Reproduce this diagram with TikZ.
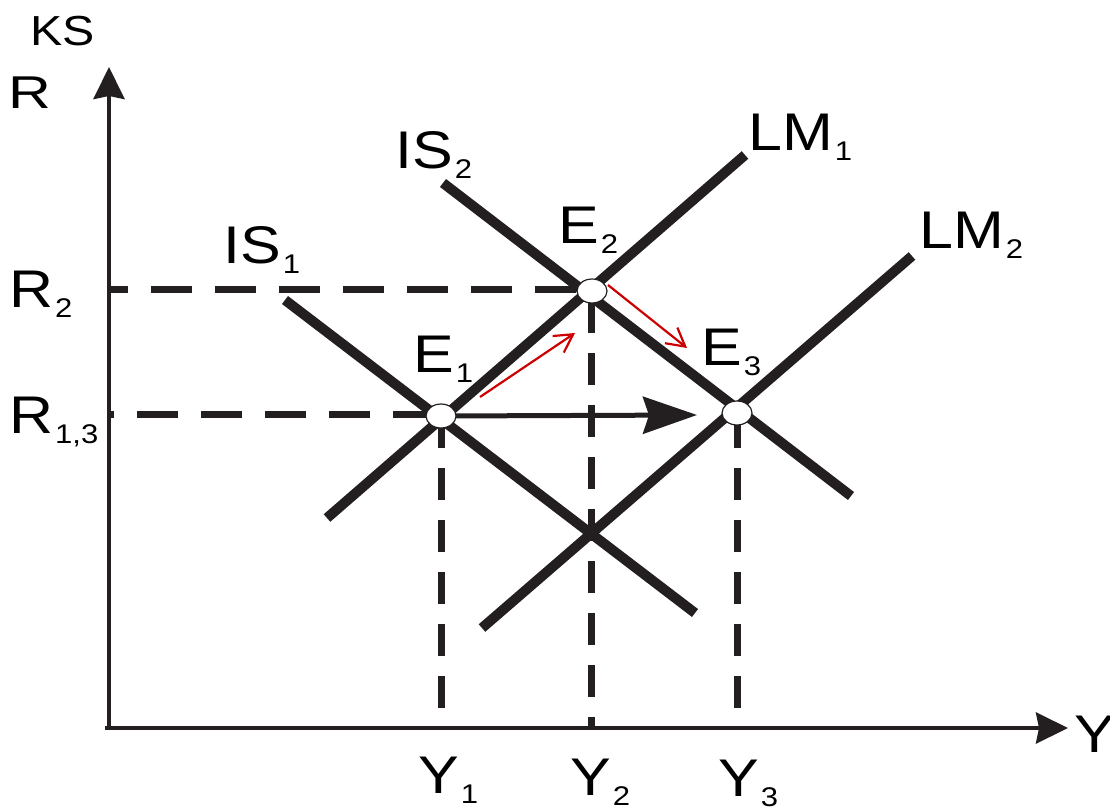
\documentclass[tikz,border=0pt]{standalone}
\usepackage{fontspec}
\setmainfont{Liberation Sans}[FakeStretch=1.15]
\usetikzlibrary{arrows.meta,shapes.geometric}
\definecolor{ink}{RGB}{35,31,32}
\definecolor{redink}{RGB}{204,0,0}
\newcommand{\mainfs}{\fontsize{53}{60}\selectfont}
\newcommand{\sublab}[2]{#1\kern2pt\raisebox{-10pt}{\fontsize{27}{27}\selectfont #2}}
\begin{document}
\begin{tikzpicture}[x=1pt,y=-1pt,
  curve/.style={line width=10pt,color=ink},
  hdash/.style={line width=7pt,color=ink,dash pattern=on 41pt off 23pt},
  vdash/.style={line width=7pt,color=ink,dash pattern=on 32pt off 20pt},
  axisline/.style={line width=4pt,color=ink,-{Stealth[length=32pt,width=31pt,inset=3pt]}},
  eqpt/.style={ellipse,draw=ink,fill=white,line width=1.2pt,minimum width=30pt,minimum height=24pt,inner sep=0pt},
  redarrow/.style={line width=2.2pt,color=redink,-{Straight Barb[length=18pt,width=20pt,line width=2.2pt]}},
  bigarrow/.style={line width=5pt,color=ink,-{Stealth[length=54pt,width=37pt,inset=6pt]}},
  lab/.style={anchor=base west,inner sep=0pt,text=black,font=\mainfs},
]
\useasboundingbox (0,0) rectangle (1110,809);
% coordinates
\coordinate (O) at (109,728);
\coordinate (ytip) at (109,67);
\coordinate (xO) at (105,728);
\coordinate (xtip) at (1068,728);
\coordinate (E1c) at (441,416);
\coordinate (E2c) at (592,291);
\coordinate (E3c) at (737,413);
\coordinate (R2a) at (109,289);
\coordinate (R2b) at (592,289);
\coordinate (R13a) at (109,414);
\coordinate (R13b) at (441,414);
\coordinate (Y1b) at (441,728);
\coordinate (Y2b) at (591,728);
\coordinate (Y3b) at (737,728);
\coordinate (Y2a) at (591,291);
\coordinate (IS1a) at (285,300);
\coordinate (IS1b) at (695,613);
\coordinate (IS2a) at (443,183);
\coordinate (IS2b) at (851,496);
\coordinate (LM1a) at (327,518);
\coordinate (LM1b) at (745,155);
\coordinate (LM2a) at (482,628);
\coordinate (LM2b) at (912,256);
\coordinate (bigtip) at (697,415);
\coordinate (ra1) at (480,397);
\coordinate (rb1) at (575,333);
\coordinate (ra2) at (608,285);
\coordinate (rb2) at (687,348);
% dashed guides
\draw[hdash,dash phase=22pt] (R2a) -- (R2b);
\draw[hdash,dash phase=36pt] (R13a) -- (R13b);
\draw[vdash,dash phase=0pt] (E1c) -- (Y1b);
\draw[vdash,dash phase=42pt] (Y2a) -- (Y2b);
\draw[vdash,dash phase=49pt] (E3c) -- (Y3b);
% curves
\draw[curve] (IS1a) -- (IS1b);
\draw[curve] (IS2a) -- (IS2b);
\draw[curve] (LM1a) -- (LM1b);
\draw[curve] (LM2a) -- (LM2b);
% axes
\draw[axisline] (O) -- (ytip);
\draw[axisline] (xO) -- (xtip);
% arrows
\draw[bigarrow] (E1c) -- (bigtip);
\draw[redarrow] (ra1) -- (rb1);
\draw[redarrow] (ra2) -- (rb2);
% equilibrium points
\node[eqpt] (E1) at (E1c) {};
\node[eqpt] (E2) at (E2c) {};
\node[eqpt] (E3) at (E3c) {};
% labels
\node[lab,font=\fontsize{42}{48}\selectfont] (ks) at (30,45) {KS};
\node[lab,font=\fontsize{46}{52}\selectfont] (rlab) at (8,108) {\scalebox{1.12}[1]{R}};
\node[lab] (r2) at (9,307) {\sublab{R}{2}};
\node[lab] (r13) at (9,433) {\sublab{R}{1,3}};
\node[lab] (is1) at (223,263) {\sublab{IS}{1}};
\node[lab] (is2) at (395,168) {\sublab{IS}{2}};
\node[lab] (lm1) at (748,150) {\sublab{LM}{1}};
\node[lab] (lm2) at (919,248) {\sublab{LM}{2}};
\node[lab] (e1) at (413,372) {\sublab{E}{1}};
\node[lab] (e2) at (558,243) {\sublab{E}{2}};
\node[lab] (e3) at (701,365) {\sublab{E}{3}};
\node[lab] (y1) at (418,793) {\sublab{Y}{1}};
\node[lab] (y2) at (570,795) {\sublab{Y}{2}};
\node[lab] (y3) at (718,796) {\sublab{Y}{3}};
\node[lab] (ylab) at (1074,752) {Y};
\end{tikzpicture}
\end{document}
